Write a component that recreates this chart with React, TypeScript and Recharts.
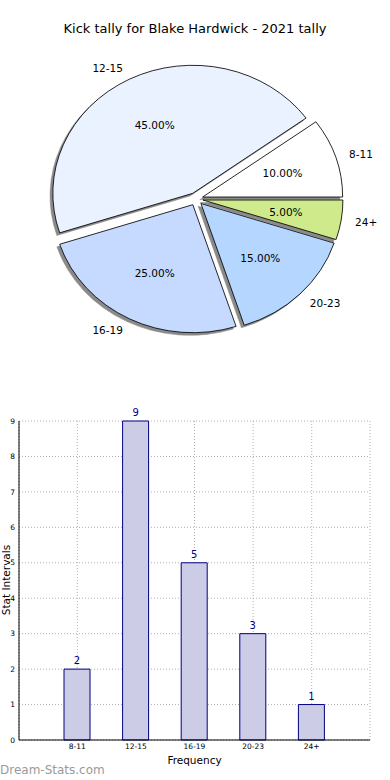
import React from "react";
import {
  PieChart,
  Pie,
  Cell,
  BarChart,
  Bar,
  XAxis,
  YAxis,
  CartesianGrid,
  LabelList,
} from "recharts";

const categories = ["8-11", "12-15", "16-19", "20-23", "24+"];
const counts = [2, 9, 5, 3, 1];
const sliceColors = ["#ffffff", "#eaf1ff", "#c6d9ff", "#b4d6ff", "#cfea8a"];
const yTicks = [0, 1, 2, 3, 4, 5, 6, 7, 8, 9];

const data = categories.map((name, i) => ({ name, value: counts[i] }));
const total = counts.reduce((a, b) => a + b, 0);

const FONT = "DejaVu Sans, sans-serif";
const CX = 196;
const CY = 199;
const RY = 128;
const RX = 140;
const SX = RX / RY;
const EXPLODE = 0.05;

// mid angle of each slice (degrees, counterclockwise from 3 o'clock)
const midAngles: number[] = [];
{
  let acc = 0;
  counts.forEach((c) => {
    const span = (c / total) * 360;
    midAngles.push(acc + span / 2);
    acc += span;
  });
}
const offsets = midAngles.map((a) => {
  const r = (a * Math.PI) / 180;
  return { dx: EXPLODE * RX * Math.cos(r), dy: -EXPLODE * RY * Math.sin(r) };
});

const tf = (i: number, sdx = 0, sdy = 0) =>
  `translate(${CX + offsets[i].dx + sdx} ${CY + offsets[i].dy + sdy}) scale(${SX} 1) translate(${-CX} ${-CY})`;

const renderLabel = (props: any) => {
  const { midAngle, percent, index, name } = props;
  const r = (midAngle * Math.PI) / 180;
  const c = Math.cos(r);
  const s = Math.sin(r);
  const ox = CX + offsets[index].dx;
  const oy = CY + offsets[index].dy;
  const px = ox + 0.6 * RX * c;
  const py = oy - 0.6 * RY * s;
  const lx = ox + 1.1 * RX * c;
  const ly = oy - 1.1 * RY * s;
  return (
    <g>
      <text x={px} y={py} textAnchor="middle" dominantBaseline="central" fontSize={10.5} fill="#000" fontFamily={FONT}>
        {(percent * 100).toFixed(2) + "%"}
      </text>
      <text x={lx} y={ly} textAnchor={c >= 0 ? "start" : "end"} dominantBaseline="central" fontSize={10.5} fill="#000" fontFamily={FONT}>
        {name}
      </text>
    </g>
  );
};

export default function App() {
  return (
    <div style={{ position: "absolute", left: 0, top: 0, width: 390, height: 780, background: "#fff", fontFamily: FONT }}>
      <div style={{ position: "absolute", left: 0, top: 21, width: 390, textAlign: "center", fontSize: 13, lineHeight: "16px", color: "#000" }}>
        Kick tally for Blake Hardwick - 2021 tally
      </div>
      <div style={{ position: "absolute", left: 0, top: 0 }}>
        <PieChart width={390} height={390} margin={{ top: 0, right: 0, bottom: 0, left: 0 }}>
          <Pie
            data={data}
            dataKey="value"
            nameKey="name"
            cx={CX}
            cy={CY}
            outerRadius={RY}
            startAngle={0}
            endAngle={360}
            isAnimationActive={false}
            labelLine={false}
            label={false}
            stroke="none"
          >
            {data.map((d, i) => (
              <Cell key={"s" + d.name} fill="#8a8a8a" stroke="#8a8a8a" strokeWidth={0.5} transform={tf(i, -2.8, 2.6)} />
            ))}
          </Pie>
          <Pie
            data={data}
            dataKey="value"
            nameKey="name"
            cx={CX}
            cy={CY}
            outerRadius={RY}
            startAngle={0}
            endAngle={360}
            isAnimationActive={false}
            labelLine={false}
            label={renderLabel}
            stroke="#000"
            strokeWidth={0.8}
          >
            {data.map((d, i) => (
              <Cell key={d.name} fill={sliceColors[i]} stroke="#000" strokeWidth={0.8} transform={tf(i)} />
            ))}
          </Pie>
        </PieChart>
      </div>
      <div style={{ position: "absolute", left: 0, top: 390 }}>
        <BarChart width={390} height={390} data={data} margin={{ top: 31, right: 20, bottom: 20, left: 0 }}>
          <XAxis
            dataKey="name"
            xAxisId="b"
            padding={{ left: 29, right: 29 }}
            height={20}
            tickLine={false}
            tickSize={4}
            tickMargin={0}
            axisLine={{ stroke: "#000", strokeWidth: 1 }}
            tick={{ fontSize: 7.5, fill: "#000", fontFamily: FONT }}
            interval={0}
          />
          <XAxis dataKey="name" xAxisId="t" orientation="top" height={0} tick={false} tickLine={false} axisLine={{ stroke: "#000", strokeWidth: 1 }} padding={{ left: 29, right: 29 }} />
          <YAxis
            yAxisId="l"
            width={19}
            domain={[0, 9]}
            ticks={yTicks}
            tickLine={false}
            tickSize={4}
            tickMargin={0}
            axisLine={{ stroke: "#000", strokeWidth: 1 }}
            tick={{ fontSize: 7.5, fill: "#000", fontFamily: FONT }}
            interval={0}
          />
          <YAxis yAxisId="r" orientation="right" width={0} domain={[0, 9]} tick={false} tickLine={false} axisLine={{ stroke: "#000", strokeWidth: 1 }} />
          <Bar dataKey="value" xAxisId="b" yAxisId="l" barSize={26} fill="#ccccE6" stroke="#000080" strokeWidth={1} isAnimationActive={false}>
            <LabelList dataKey="value" position="top" offset={5} fill="#00008b" fontSize={10} fontFamily={FONT} />
          </Bar>
          <CartesianGrid xAxisId="b" yAxisId="l" stroke="#b0b0b0" strokeDasharray="1 2" strokeWidth={1} />
        </BarChart>
      </div>
      <div style={{ position: "absolute", left: 19, top: 753, width: 351, textAlign: "center", fontSize: 10.5, lineHeight: "14px", color: "#000" }}>
        Frequency
      </div>
      <div
        style={{
          position: "absolute",
          left: 6,
          top: 580,
          transform: "translate(-50%, -50%) rotate(-90deg)",
          fontSize: 10.5,
          lineHeight: "12px",
          whiteSpace: "nowrap",
          color: "#000",
        }}
      >
        Stat Intervals
      </div>
      <div style={{ position: "absolute", left: 0, top: 762, fontSize: 12, color: "#9a9a9a", lineHeight: "16px" }}>
        Dream-Stats.com
      </div>
    </div>
  );
}
